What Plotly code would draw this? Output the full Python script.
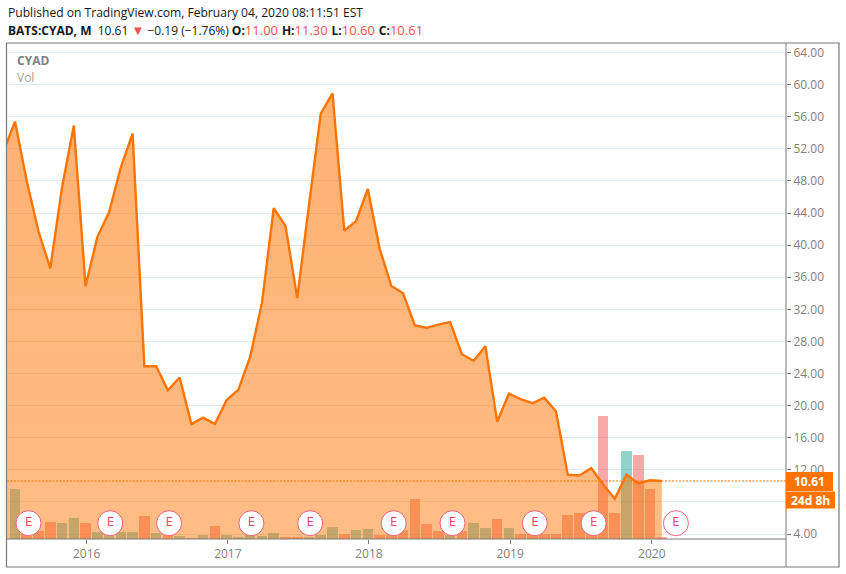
import plotly.graph_objects as go

FONT = "Open Sans"
ORANGE = "#ff7400"
RED = "#ef5350"

month_index = list(range(-1, 56))
close = [51.6, 55.4, 48.0, 41.7, 37.1, 47.2, 54.9, 34.9, 41.0, 44.1, 49.7, 53.9, 24.9, 24.9, 21.9,
         23.5, 17.7, 18.5, 17.7, 20.7, 22.0, 26.1, 32.8, 44.6, 42.4, 33.4, 45.0, 56.4, 58.9, 41.8,
         43.0, 47.0, 39.6, 34.9, 34.0, 30.0, 29.7, 30.1, 30.4, 26.4, 25.6, 27.4, 18.0, 21.5, 20.8,
         20.3, 21.0, 19.3, 11.4, 11.3, 12.2, 10.2, 8.4, 11.4, 10.3, 10.7, 10.61]

vol_index = list(range(0, 56))
volume = [100, 14, 16, 34, 32, 42, 32, 14, 12, 14, 14, 46, 12, 8, 6, 2, 8, 26, 8, 4, 8, 6, 12, 4, 4,
          4, 8, 24, 10, 18, 20, 8, 8, 18, 80, 30, 16, 8, 16, 32, 22, 40, 22, 10, 10, 10, 10, 48, 52,
          52, 246, 52, 176, 168, 100, 4]
vol_up = [1, 0, 0, 0, 1, 1, 0, 1, 1, 1, 1, 0, 1, 0, 1, 0, 1, 0, 1, 1, 1, 1, 1, 0, 0,
          1, 1, 1, 0, 1, 1, 0, 0, 0, 0, 0, 0, 1, 0, 1, 1, 0, 1, 0, 0, 0, 0, 0, 0,
          0, 0, 0, 1, 0, 0, 0]

earnings_index = [1.15, 8.1, 13.1, 20.1, 25.1, 32.2, 37.2, 44.2, 49.2, 56.2]
earnings_level = [5.35] * len(earnings_index)

year_ticks = [6.1, 18.1, 30.1, 42.1, 54.15]
year_labels = ["2016", "2017", "2018", "2019", "2020"]
price_ticks = list(range(4, 68, 4))
price_labels = ["" if p == 8 else f"{p:.2f}" for p in price_ticks]
last_price = 10.61

W, H = 846, 574
L, R, T, B = 7, 786, 43, 539
def px(x): return (x - L) / (R - L)
def py(y): return (B - y) / (B - T)

vol_colors = ["rgba(38,166,154,0.5)" if u else "rgba(239,83,80,0.5)" for u in vol_up]

fig = go.Figure()
fig.add_trace(go.Bar(x=vol_index, y=volume, marker=dict(color=vol_colors, line_width=0),
                     width=0.9, yaxis="y", hoverinfo="skip"))
fig.add_trace(go.Scatter(x=month_index, y=close, yaxis="y2", mode="lines",
                         line=dict(color=ORANGE, width=2.4),
                         fill="tozeroy",
                         fillgradient=dict(type="vertical", start=60, stop=4,
                                           colorscale=[[0, "rgba(255,116,0,0.56)"], [1, "rgba(255,116,0,0.48)"]]),
                         hoverinfo="skip"))
fig.add_trace(go.Scatter(x=earnings_index, y=earnings_level, yaxis="y2", mode="markers+text",
                         text=["E"] * len(earnings_index), textposition="middle center",
                         textfont=dict(family=FONT, size=13, color="#f2435f"),
                         marker=dict(size=25, color="white", line=dict(color="#f2627a", width=1)),
                         hoverinfo="skip", cliponaxis=False))

line_color = "#787878"
shapes = [
    dict(type="rect", xref="paper", yref="paper", x0=px(6.5), x1=px(839), y0=py(567), y1=py(43),
         line=dict(color=line_color, width=1.2), layer="below"),
    dict(type="line", xref="paper", yref="paper", x0=px(7), x1=px(786), y0=0, y1=0, line=dict(color=line_color, width=1)),
    dict(type="line", xref="paper", yref="paper", x0=1, x1=1, y0=py(567), y1=py(43), line=dict(color=line_color, width=1)),
    dict(type="line", xref="paper", yref="y2", x0=0, x1=1, y0=last_price, y1=last_price,
         line=dict(color=ORANGE, width=1, dash="2px,1.5px")),
    dict(type="rect", xref="paper", yref="paper", x0=1, x1=px(833), y0=py(491), y1=py(472),
         fillcolor=ORANGE, line_width=0),
    dict(type="rect", xref="paper", yref="paper", x0=1, x1=px(835), y0=py(508.5), y1=py(491.5),
         fillcolor=ORANGE, line_width=0),
]

def note(x, y, text, size=12, color="#131722", anchor="left"):
    return dict(xref="paper", yref="paper", x=px(x), y=py(y), text=text, showarrow=False,
                xanchor=anchor, yanchor="middle", font=dict(family=FONT, size=size, color=color))

r = lambda s: f'<span style="color:{RED};font-size:13px">{s}</span>'
tri = f'<span style="color:{RED};font-size:13px">▼</span>'
gap = '<span style="font-size:15px"> </span>'
annotations = [
    note(6, 12, "Published on TradingView.com, February 04, 2020 08:11:51 EST", 12.1),
    note(6, 29, f"<b>BATS:CYAD, M</b>  10.61 {tri} −0.19 (−1.76%) <b>O:</b>{r('11.00')}{gap}<b>H:</b>{r('11.30')}{gap}"
                f"<b>L:</b>{r('10.60')}{gap}<b>C:</b>{r('10.61')}", 12),
    note(15, 60, "<b>CYAD</b>", 12, "#808080"),
    note(15, 77, "Vol", 12, "#a0a0a0"),
    note(809.5, 481.5, "<b>10.61</b>", 12, "white", "center"),
    note(810.5, 500, "<b>24d 8h</b>", 12, "white", "center"),
]

fig.update_layout(
    width=W, height=H, showlegend=False, paper_bgcolor="white", plot_bgcolor="white",
    margin=dict(l=L, r=W - R, t=T, b=H - B),
    bargap=0,
    xaxis=dict(range=[-0.68, 65.56], tickmode="array", tickvals=year_ticks, ticktext=year_labels,
               showgrid=False, zeroline=False, ticks="outside", ticklen=4, tickcolor=line_color,
               tickfont=dict(family=FONT, size=12, color="#808080"), showline=False),
    yaxis=dict(range=[0, 992], visible=False, fixedrange=True),
    yaxis2=dict(range=[3.38, 65.19], overlaying="y", side="right", anchor="x",
                tickmode="array", tickvals=price_ticks, ticktext=price_labels,
                showgrid=True, gridcolor="#e1ecf2", gridwidth=1, zeroline=False,
                ticks="outside", ticklen=4, tickcolor=line_color, showline=False,
                tickfont=dict(family=FONT, size=12, color="#808080")),
    shapes=shapes, annotations=annotations,
)

fig.write_html("out.html", config=dict(displayModeBar=False),
               post_script="document.body.style.margin='0';")
